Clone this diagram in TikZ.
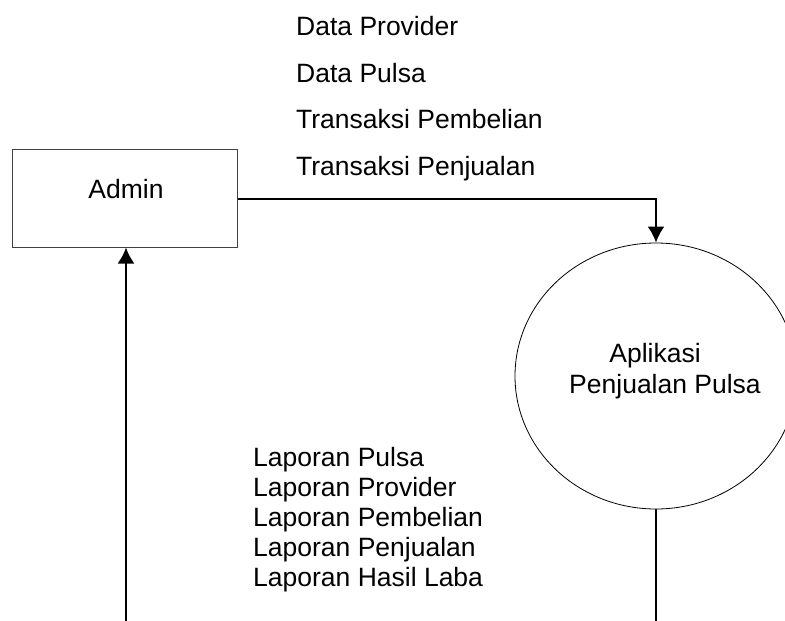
\documentclass[tikz,border=0pt]{standalone}
\usepackage{fontspec}
\setmainfont{Liberation Sans}
\usetikzlibrary{positioning,shapes,arrows.meta}

\begin{document}
\begin{tikzpicture}[x=1pt,y=-1pt,
  txt/.style={anchor=base west,inner sep=0pt,font=\fontsize{26.5}{30}\selectfont},
  flow/.style={line width=2pt,-{Latex[length=16pt,width=17pt]}}]
\useasboundingbox (0,0) rectangle (785,621);
\node[draw=black!75,line width=1pt,minimum width=225pt,minimum height=98pt] (admin) at (124.5,198) {};
\node[txt,anchor=base] (admintext) at (126,198) {Admin};
\node[draw,ellipse,line width=0.8pt,minimum width=282pt,minimum height=266pt] (app) at (656,376) {};
\node[txt,anchor=base] (app1) at (655,362) {Aplikasi};
\node[txt,anchor=base] (app2) at (665,393) {Penjualan Pulsa};
%
\node[txt] (d1) at (296,35) {Data Provider};
\node[txt] (d2) at (296,82) {Data Pulsa};
\node[txt] (d3) at (296,128) {Transaksi Pembelian};
\node[txt] (d4) at (296,175) {Transaksi Penjualan};
%
\node[txt] (l1) at (253,466) {Laporan Pulsa};
\node[txt] (l2) at (253,496) {Laporan Provider};
\node[txt] (l3) at (253,526) {Laporan Pembelian};
\node[txt] (l4) at (253,556) {Laporan Penjualan};
\node[txt] (l5) at (253,586) {Laporan Hasil Laba};
%
\coordinate (bend) at (656,199);
\coordinate (appout) at (656,621);
\coordinate (adminin) at (126,621);
\draw[flow] (admin.east |- bend) -- (bend) -- (app.north);
\draw[line width=2pt] (app.south) -- (appout);
\draw[flow] (adminin) -- (adminin |- admin.south);
\end{tikzpicture}
\end{document}
